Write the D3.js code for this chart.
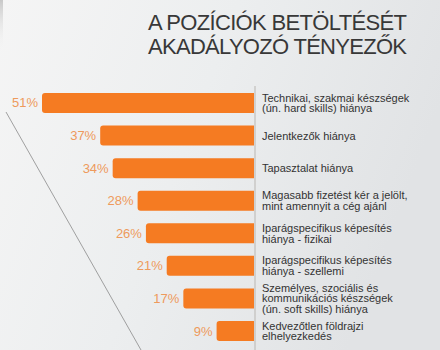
<!DOCTYPE html>
<html><head><meta charset="utf-8">
<script src="https://cdn.jsdelivr.net/npm/d3@7"></script>
<style>html,body{margin:0;padding:0;overflow:hidden;background:#eceeef}</style>
</head><body>
<svg id="c" width="440" height="350"></svg>
<script>
const titleLines = ["A POZÍCIÓK BETÖLTÉSÉT", "AKADÁLYOZÓ TÉNYEZŐK"];
const categories = [
  "Technikai, szakmai készségek|(ún. hard skills) hiánya",
  "Jelentkezők hiánya",
  "Tapasztalat hiánya",
  "Magasabb fizetést kér a jelölt,|mint amennyit a cég ajánl",
  "Iparágspecifikus képesítés|hiánya - fizikai",
  "Iparágspecifikus képesítés|hiánya - szellemi",
  "Személyes, szociális és|kommunikációs készségek|(ún. soft skills) hiánya",
  "Kedvezőtlen földrajzi|elhelyezkedés"
];
const values = [51, 37, 34, 28, 26, 21, 17, 9];
const valueLabels = ["51%", "37%", "34%", "28%", "26%", "21%", "17%", "9%"];

const svg = d3.select("#c");
const W = 440, H = 350;
const defs = svg.append("defs");
const bg = defs.append("linearGradient").attr("id","bg").attr("x1","0").attr("y1","0").attr("x2","1").attr("y2","0.3");
bg.append("stop").attr("offset","0").attr("stop-color","#f5f5f5");
bg.append("stop").attr("offset","0.5").attr("stop-color","#eceeef");
bg.append("stop").attr("offset","1").attr("stop-color","#e1e3e5");
svg.append("rect").attr("width",W).attr("height",H).attr("fill","url(#bg)");
const edge = defs.append("linearGradient").attr("id","edge").attr("x1","0").attr("y1","0").attr("x2","0").attr("y2","1");
edge.append("stop").attr("offset","0").attr("stop-color","#c8c8c8");
edge.append("stop").attr("offset","1").attr("stop-color","#f2f2f2").attr("stop-opacity",0);
svg.append("rect").attr("x",0).attr("y",0).attr("width",3).attr("height",50).attr("fill","url(#edge)");

// decorative diagonal
svg.append("line").attr("x1",6).attr("y1",112).attr("x2",141).attr("y2",350)
  .attr("stroke","#8a8a8a").attr("stroke-width",0.8);

// title
svg.append("g").selectAll("text").data(titleLines).join("text")
  .attr("x",148).attr("y",(d,i)=>29.5+i*24)
  .attr("font-family","Liberation Sans, Arial, sans-serif")
  .attr("font-size",22).attr("fill","#383838")
  .attr("textLength",259).attr("lengthAdjust","spacing")
  .text(d=>d);

const x0 = 254;
const x = d3.scaleLinear().domain([0, 51]).range([x0, 42]);
const y = d3.scaleBand().domain(categories).range([86.7, 347.3]).paddingInner(0.386).paddingOuter(0.193);

// vertical axis line
svg.append("line").attr("x1",x0+1).attr("x2",x0+1).attr("y1",86).attr("y2",350)
  .attr("stroke","#b9b6b2").attr("stroke-width",1);

const r = 3;
svg.append("g").selectAll("path").data(values).join("path")
  .attr("d",(v,i)=>{
    const xl = x(v), yt = y(categories[i]), h = y.bandwidth();
    return `M${x0},${yt}H${xl+r}Q${xl},${yt} ${xl},${yt+r}V${yt+h-r}Q${xl},${yt+h} ${xl+r},${yt+h}H${x0}Z`;
  })
  .attr("fill","#f57b22");

svg.append("g").selectAll("text").data(values).join("text")
  .attr("x",(v)=>x(v)-4).attr("y",(v,i)=>y(categories[i])+y.bandwidth()/2+4.5)
  .attr("text-anchor","end")
  .attr("font-family","Liberation Sans, Arial, sans-serif")
  .attr("font-size",13).attr("fill","#ee9a5c")
  .text((v,i)=>valueLabels[i]);

const lh = 10.8;
const lg = svg.append("g");
categories.forEach((c,i)=>{
  const lines = c.split("|");
  const cy = y(c) + y.bandwidth()/2;
  const first = cy + 4 - (lines.length-1)*lh/2;
  const t = lg.append("text").attr("font-family","Liberation Sans, Arial, sans-serif")
    .attr("font-size",11).attr("fill","#333");
  lines.forEach((l,j)=>{
    t.append("tspan").attr("x",262).attr("y",first + j*lh).text(l);
  });
});
</script>
</body></html>
